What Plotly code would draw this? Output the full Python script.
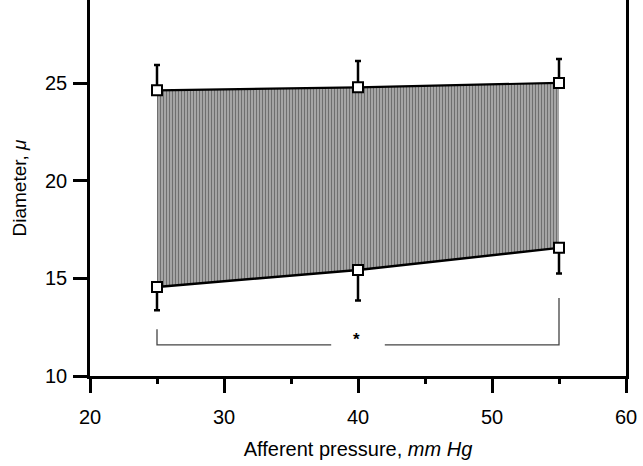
import plotly.graph_objects as go

# ---- data ----
pressure = [25, 40, 55]                 # afferent pressure, mm Hg
upper_diam = [24.65, 24.8, 25.03]       # upper curve, micrometres
upper_err = [1.3, 1.35, 1.23]           # +SE
lower_diam = [14.57, 15.43, 16.57]      # lower curve
lower_err = [1.2, 1.56, 1.31]           # -SE

# significance bracket
bracket_left_x = [25, 25, 38]
bracket_left_y = [12.4, 11.6, 11.6]
bracket_right_x = [42, 55, 55]
bracket_right_y = [11.6, 11.6, 14.0]
star_x, star_y = 39.9, 11.85

x_ticks = [20, 30, 40, 50, 60]
y_ticks = [10, 15, 20, 25]

FONT = "Liberation Sans, Arial, Helvetica, sans-serif"

fig = go.Figure()

# lower curve (baseline for the fill)
fig.add_trace(go.Scatter(
    x=pressure, y=lower_diam, mode="lines",
    line=dict(color="black", width=2.5),
    hoverinfo="skip", showlegend=False,
))
# upper curve with hatched fill down to the lower curve
fig.add_trace(go.Scatter(
    x=pressure, y=upper_diam, mode="lines", fill="tonexty",
    fillcolor="#8a8a8a",
    fillpattern=dict(shape="|", fgcolor="#2e2e2e", bgcolor="#b0b0b0",
                     size=3, solidity=0.45),
    line=dict(color="black", width=2.2),
    hoverinfo="skip", showlegend=False,
))

# bracket
fig.add_trace(go.Scatter(
    x=bracket_left_x + [None] + bracket_right_x,
    y=bracket_left_y + [None] + bracket_right_y,
    mode="lines", line=dict(color="#444444", width=1.3),
    hoverinfo="skip", showlegend=False,
))

# markers with one-sided error bars
fig.add_trace(go.Scatter(
    x=pressure, y=upper_diam, mode="markers",
    marker=dict(symbol="square", size=10, color="white",
                line=dict(color="black", width=2)),
    error_y=dict(type="data", symmetric=False, array=upper_err,
                 arrayminus=[0, 0, 0], color="black", thickness=2.5, width=3),
    showlegend=False,
))
fig.add_trace(go.Scatter(
    x=pressure, y=lower_diam, mode="markers",
    marker=dict(symbol="square", size=10, color="white",
                line=dict(color="black", width=2)),
    error_y=dict(type="data", symmetric=False, array=[0, 0, 0],
                 arrayminus=lower_err, color="black", thickness=2.5, width=3),
    showlegend=False,
))

fig.add_annotation(x=star_x, y=star_y, text="<b>*</b>", showarrow=False,
                   font=dict(size=17, color="black", family=FONT))

fig.update_layout(
    width=643, height=466,
    margin=dict(l=90, r=17, t=0, b=90),
    paper_bgcolor="white", plot_bgcolor="white",
    font=dict(family=FONT, size=19, color="black"),
    xaxis=dict(
        range=[20, 60], tickvals=x_ticks, ticks="outside", ticklen=14,
        tickwidth=2.5, tickcolor="black", showgrid=False, zeroline=False,
        showline=True, linecolor="black", linewidth=2.5, mirror=False,
        tickfont=dict(size=20, color="black"),
        minor=dict(tickvals=[25, 35, 45, 55], ticks="outside", ticklen=5,
                   tickwidth=2.5, tickcolor="black", showgrid=False),
        title=dict(text="Afferent pressure, <i>mm Hg</i>",
                   font=dict(size=20, color="black"), standoff=16),
        ticklabelstandoff=7,
    ),
    yaxis=dict(
        range=[10, 29.28], tickvals=y_ticks, ticks="outside", ticklen=14,
        tickwidth=2.5, tickcolor="black", showgrid=False, zeroline=False,
        showline=True, linecolor="black", linewidth=2.5, mirror=True,
        tickfont=dict(size=20, color="black"),
        title=dict(text="Diameter, <i>μ</i>", font=dict(size=19, color="black"),
                   standoff=14),
        ticklabelstandoff=2,
    ),
)

fig.write_html("out.html")
